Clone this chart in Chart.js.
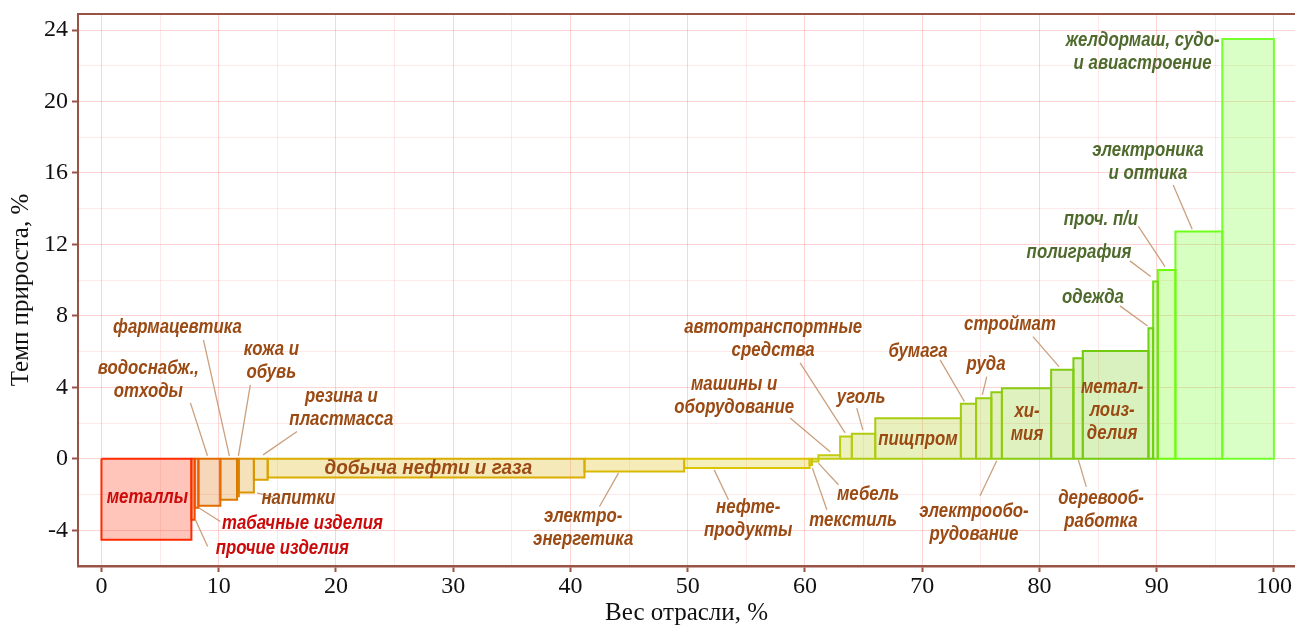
<!DOCTYPE html>
<html><head><meta charset="utf-8">
<script src="https://cdn.jsdelivr.net/npm/chart.js@4/dist/chart.umd.min.js"></script>
<style>html,body{margin:0;padding:0;background:#fff;overflow:hidden}</style>
</head><body>
<canvas id="c" width="1295" height="628"></canvas>
<script>
// ---- data ----
const categories = ['металлы','прочие изделия','табачные изделия','водоснабж., отходы','фармацевтика','кожа и обувь','напитки','резина и пластмасса','добыча нефти и газа','электроэнергетика','нефтепродукты','текстиль','мебель','машины и оборудование','автотранспортные средства','уголь','пищпром','бумага','руда','электрооборудование','химия','строймат','деревообработка','металлоизделия','одежда','полиграфия','проч. п/и','электроника и оптика','желдормаш, судо- и авиастроение'];
const weights = [7.67,0.28,0.32,1.87,1.43,0.15,1.28,1.18,27.02,8.5,10.7,0.2,0.55,1.85,1.0,2.0,7.3,1.3,1.3,0.9,4.2,1.9,0.8,5.6,0.4,0.4,1.5,4.0,4.4];
const growth = [-4.53,-3.41,-2.74,-2.63,-2.29,-2.1,-1.88,-1.17,-1.05,-0.71,-0.52,-0.34,-0.15,0.2,1.25,1.4,2.27,3.08,3.39,3.73,3.95,4.98,5.63,6.04,7.31,9.92,10.57,12.72,23.5];
const xTickLabels = [0,10,20,30,40,50,60,70,80,90,100];
const yTickLabels = [-4,0,4,8,12,16,20,24];

// ---- annotations (data coords) ----
const RED='#cc0a0a', BROWN='#9a4a12', GREEN='#4e6a2c';
const annotations = [
 {t:['металлы'], x:3.92, y:-2.13, c:RED},
 {t:['табачные изделия'], x:17.14, y:-3.58, c:RED, l:[8.29,-2.74,10.14,-3.51]},
 {t:['прочие изделия'], x:15.43, y:-4.98, c:RED, l:[8.01,-3.41,9.06,-4.91]},
 {t:['напитки'], x:16.79, y:-2.18, c:BROWN, l:[13.27,-1.9,14.64,-2.14]},
 {t:['водоснабж.,','отходы'], x:4.0, y:5.09, c:BROWN, l:[7.59,3.13,9.04,0.17]},
 {t:['фармацевтика'], x:6.48, y:7.38, c:BROWN, l:[8.70,6.66,10.91,0.17]},
 {t:['кожа и','обувь'], x:14.49, y:6.15, c:BROWN, l:[12.70,4.14,11.68,0.17]},
 {t:['резина и','пластмасса'], x:20.46, y:3.52, c:BROWN, l:[16.68,1.53,13.79,0.22]},
 {t:['добыча нефти и газа'], x:27.88, y:-0.5, c:BROWN, s:0.9},
 {t:['электро-','энергетика'], x:41.09, y:-3.19, c:BROWN, l:[44.1,-0.8,42.48,-2.67]},
 {t:['нефте-','продукты'], x:55.16, y:-2.69, c:BROWN, l:[52.26,-0.62,53.48,-2.29]},
 {t:['мебель'], x:65.39, y:-1.96, c:BROWN, l:[61.15,-0.24,62.86,-1.45]},
 {t:['текстиль'], x:64.11, y:-3.41, c:BROWN, l:[60.64,-0.52,61.87,-2.85]},
 {t:['машины и','оборудование'], x:53.96, y:4.20, c:BROWN, l:[58.74,2.29,62.15,0.39]},
 {t:['автотранспортные','средства'], x:57.29, y:7.38, c:BROWN, l:[59.59,5.37,63.43,1.45]},
 {t:['уголь'], x:64.79, y:3.47, c:BROWN, l:[64.42,2.84,64.94,1.62]},
 {t:['пищпром'], x:69.65, y:1.12, c:BROWN},
 {t:['бумага'], x:69.65, y:6.04, c:BROWN, l:[71.53,5.54,73.6,3.21]},
 {t:['руда'], x:75.45, y:5.31, c:BROWN, l:[75.51,4.60,75.13,3.58]},
 {t:['строймат'], x:77.49, y:7.55, c:BROWN, l:[79.45,6.84,81.67,5.16]},
 {t:['хи-','мия'], x:78.94, y:2.69, c:BROWN},
 {t:['электрообо-','рудование'], x:74.42, y:-2.91, c:BROWN, l:[76.36,-0.11,74.94,-2.07]},
 {t:['метал-','лоиз-','делия'], x:86.2, y:4.03, c:BROWN},
 {t:['деревооб-','работка'], x:85.25, y:-2.18, c:BROWN, l:[83.32,-0.06,84.0,-1.57]},
 {t:['одежда'], x:84.57, y:9.06, c:GREEN, l:[86.87,8.56,89.23,7.44]},
 {t:['полиграфия'], x:83.38, y:11.58, c:GREEN, l:[87.72,11.08,89.49,10.20]},
 {t:['проч. п/и'], x:85.25, y:13.43, c:GREEN, l:[88.43,13.03,90.71,10.76]},
 {t:['электроника','и оптика'], x:89.26, y:17.29, c:GREEN, l:[91.41,15.33,93.03,12.85]},
 {t:['желдормаш, судо-','и авиастроение'], x:88.8, y:23.44, c:GREEN}
];

// ---- styles ----
const AXIS = '#9a5246';
const SERIF = '"Liberation Serif", "Times New Roman", serif';
const n = categories.length;
function hueAt(i){ return 10 + 90*Math.pow(i/(n-1), 0.7); }
function lightAt(h){ if(h<30) return 50-(h-10)*0.3; if(h<=90) return 43; return 43+(h-90)*1.6; }
function satAt(h){ return (h>55 && h<95) ? 85 : 100; }
function strokeFor(i){ const h=hueAt(i); return `hsl(${h.toFixed(1)},${satAt(h)}%,${lightAt(h).toFixed(1)}%)`; }
function fillFor(i){ const h=hueAt(i); return `hsla(${h.toFixed(1)},${satAt(h)}%,${lightAt(h).toFixed(1)}%,0.27)`; }

// ---- build datasets ----
const datasets = [];
let acc = 0;
categories.forEach((name, i) => {
  const x0 = acc, x1 = acc + weights[i], v = growth[i];
  acc = x1;
  datasets.push({ label: name, data: [{x:x0,y:0},{x:x0,y:v},{x:x1,y:v},{x:x1,y:0}],
    fill: 'origin', backgroundColor: fillFor(i), borderWidth: 0, pointRadius: 0, order: 2 });
  datasets.push({ label: name + ' ', data: [{x:x0,y:0},{x:x0,y:v},{x:x1,y:v},{x:x1,y:0},{x:x0,y:0}],
    fill: false, borderColor: strokeFor(i), borderWidth: 2, pointRadius: 0, order: 1 });
});

const labelPlugin = {
  id: 'labelPlugin',
  afterDatasetsDraw(chart) {
    const {ctx, scales:{x, y}, chartArea} = chart;
    ctx.save();
    ctx.strokeStyle = AXIS; ctx.lineWidth = 2;
    ctx.beginPath(); ctx.moveTo(chartArea.left, chartArea.top); ctx.lineTo(chartArea.right, chartArea.top); ctx.stroke();
    ctx.strokeStyle = 'rgba(196,150,112,0.9)'; ctx.lineWidth = 1.3;
    annotations.forEach(a => { if (a.l) {
      ctx.beginPath();
      ctx.moveTo(x.getPixelForValue(a.l[0]), y.getPixelForValue(a.l[1]));
      ctx.lineTo(x.getPixelForValue(a.l[2]), y.getPixelForValue(a.l[3]));
      ctx.stroke(); } });
    ctx.font = 'italic bold 21px "Liberation Sans", Arial, sans-serif';
    ctx.textAlign = 'center'; ctx.textBaseline = 'middle';
    annotations.forEach(a => {
      ctx.fillStyle = a.c;
      const px = x.getPixelForValue(a.x), py = y.getPixelForValue(a.y);
      a.t.forEach((s, k) => {
        ctx.save(); ctx.translate(px, py + k*23); ctx.scale(a.s || 0.8, 1);
        ctx.fillText(s, 0, 0); ctx.restore();
      });
    });
    ctx.restore();
  }
};

new Chart(document.getElementById('c'), {
  type: 'line',
  data: { datasets },
  options: {
    responsive: false, animation: false, devicePixelRatio: 1,
    layout: { padding: { top: 14, right: 0, left: 0, bottom: 0 } },
    plugins: { legend: { display: false }, tooltip: { enabled: false } },
    elements: { line: { tension: 0 } },
    scales: {
      x: {
        type: 'linear', min: -2, max: 101.8,
        afterFit(s){ s.height = 62; s.paddingLeft = 0; s.paddingRight = 0; },
        border: { color: AXIS, width: 2.5 },
        grid: {
          color: c => (c.tick && c.tick.value % 10 === 0) ? 'rgba(245,120,120,0.32)' : 'rgba(245,120,120,0.16)',
          lineWidth: 1, tickLength: 6, tickWidth: 2,
          tickColor: c => (c.tick && xTickLabels.includes(c.tick.value)) ? AXIS : 'rgba(0,0,0,0)'
        },
        ticks: { stepSize: 5, includeBounds: false, autoSkip: false, maxRotation: 0, padding: 0,
          color: '#111', font: { family: SERIF, size: 24 },
          callback: v => xTickLabels.includes(v) ? String(v) : '' },
        title: { display: true, text: 'Вес отрасли, %', color: '#111',
          font: { family: SERIF, size: 25 }, padding: { top: 0, bottom: 0 } }
      },
      y: {
        type: 'linear', min: -6, max: 24.9,
        afterFit(s){ s.width = 78; s.paddingTop = 0; s.paddingBottom = 0; },
        border: { color: AXIS, width: 2 },
        grid: {
          color: c => (c.tick && c.tick.value % 4 === 0) ? 'rgba(245,120,120,0.32)' : 'rgba(245,120,120,0.16)',
          lineWidth: 1, tickLength: 6, tickWidth: 2,
          tickColor: c => (c.tick && yTickLabels.includes(c.tick.value)) ? AXIS : 'rgba(0,0,0,0)'
        },
        ticks: { stepSize: 2, includeBounds: false, autoSkip: false, padding: 4,
          color: '#111', font: { family: SERIF, size: 24 },
          callback: v => yTickLabels.includes(v) ? String(v) : '' },
        title: { display: true, text: 'Темп прироста, %', color: '#111',
          font: { family: SERIF, size: 25 }, padding: { top: 6, bottom: 0 } }
      }
    }
  },
  plugins: [labelPlugin]
});
</script>
</body></html>
